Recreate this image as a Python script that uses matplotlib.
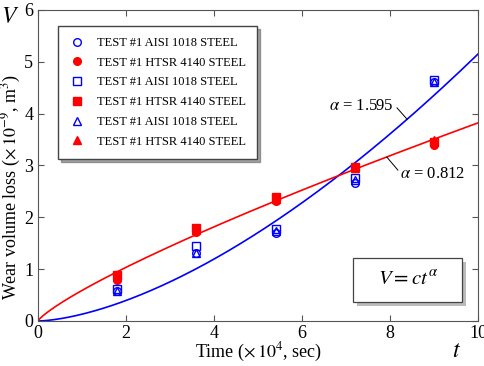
import numpy as np
import matplotlib
matplotlib.use("Agg")
import matplotlib.pyplot as plt
from matplotlib.patches import Rectangle

plt.rcParams["font.family"] = ["Liberation Serif", "DejaVu Serif"]
plt.rcParams["mathtext.fontset"] = "stix"

# sampling times (x 10^4 sec)
t_obs = [1.8, 3.6, 5.4, 7.2, 9.0]

# wear volume loss (x 10^-9 m^3)
aisi_circle = [0.58, 1.32, 1.70, 2.66, 4.60]
htsr_circle = [0.80, 1.72, 2.32, 2.95, 3.40]
aisi_square = [0.62, 1.44, 1.77, 2.76, 4.65]
htsr_square = [0.88, 1.80, 2.40, 2.97, 3.45]
aisi_triangle = [0.57, 1.32, 1.74, 2.72, 4.60]
htsr_triangle = [0.85, 1.76, 2.36, 2.96, 3.50]

# power-law fits V = c t^alpha
c_aisi, alpha_aisi = 0.1308, 1.595
c_htsr, alpha_htsr = 0.589, 0.812

fig = plt.figure(figsize=(4.84, 3.66), dpi=100)
ax = fig.add_axes([0.0785, 0.123, 0.909, 0.85])

tt = np.linspace(0, 10, 300)
ax.plot(tt, c_aisi * tt ** alpha_aisi, color="blue", lw=1.2, zorder=2)
ax.plot(tt, c_htsr * tt ** alpha_htsr, color="red", lw=1.2, zorder=2)

ms = 5.5
series = [
    (aisi_circle, "o", "blue", False, "TEST #1 AISI 1018 STEEL"),
    (htsr_circle, "o", "red", True, "TEST #1 HTSR 4140 STEEL"),
    (aisi_square, "s", "blue", False, "TEST #1 AISI 1018 STEEL"),
    (htsr_square, "s", "red", True, "TEST #1 HTSR 4140 STEEL"),
    (aisi_triangle, "^", "blue", False, "TEST #1 AISI 1018 STEEL"),
    (htsr_triangle, "^", "red", True, "TEST #1 HTSR 4140 STEEL"),
]
for vals, mk, col, filled, lab in series:
    ax.plot(t_obs, vals, ls="none", marker=mk, ms=ms, mec=col,
            mfc=col if filled else "none", mew=1.0, label=lab, zorder=3)

ax.set_xlim(0, 10)
ax.set_ylim(0, 6)
ax.set_xticks([0, 2, 4, 6, 8, 10])
ax.set_yticks([0, 1, 2, 3, 4, 5, 6])
ax.tick_params(direction="in", top=True, right=True, labelsize=13, length=4,
               color="#555555")
ax.tick_params(axis="x", pad=3)
for s in ax.spines.values():
    s.set_color("#555555")

ax.set_xlabel(r"Time ($\times\,10^4$, sec)", fontsize=13, labelpad=-1)
ax.set_ylabel(r"Wear volume loss ($\times\,10^{-9}$, m$^3$)", fontsize=13)
ax.yaxis.set_label_coords(-0.034, 0.43)
fig.text(0.02, 0.953, r"$V$", fontsize=17, ha="center", va="center")
fig.text(0.944, 0.04, r"$t$", fontsize=17, ha="center", va="center")

leg = ax.legend(loc="upper left", bbox_to_anchor=(0.045, 0.949), fontsize=9,
                frameon=True, fancybox=False, shadow=True, handletextpad=0.9,
                borderpad=0.9, labelspacing=0.62, handlelength=1.3,
                borderaxespad=0)
leg.get_frame().set_edgecolor("#444444")

# alpha annotations with leader lines
ax.plot([8.16, 8.39], [4.11, 3.89], color="black", lw=0.7)
ax.text(8.07, 4.15, r"$\alpha$ = 1.595", fontsize=12, ha="right", va="center")
ax.plot([7.93, 8.18], [3.16, 2.91], color="black", lw=0.7)
ax.text(8.23, 2.83, r"$\alpha$ = 0.812", fontsize=12, ha="left", va="center")

# formula box with drop shadow
bx0, by0, bw, bh = 0.716, 0.061, 0.248, 0.142
ax.add_patch(Rectangle((bx0 + 0.009, by0 - 0.013), bw, bh, transform=ax.transAxes,
                       fc="#bbbbbb", ec="none", zorder=4))
ax.add_patch(Rectangle((bx0, by0), bw, bh, transform=ax.transAxes,
                       fc="white", ec="#444444", lw=0.9, zorder=5))
ax.text(bx0 + bw / 2, by0 + bh / 2, r"$V = ct^{\alpha}$", transform=ax.transAxes,
        fontsize=15, ha="center", va="center", zorder=6)

fig.savefig("out.png", dpi=100)
